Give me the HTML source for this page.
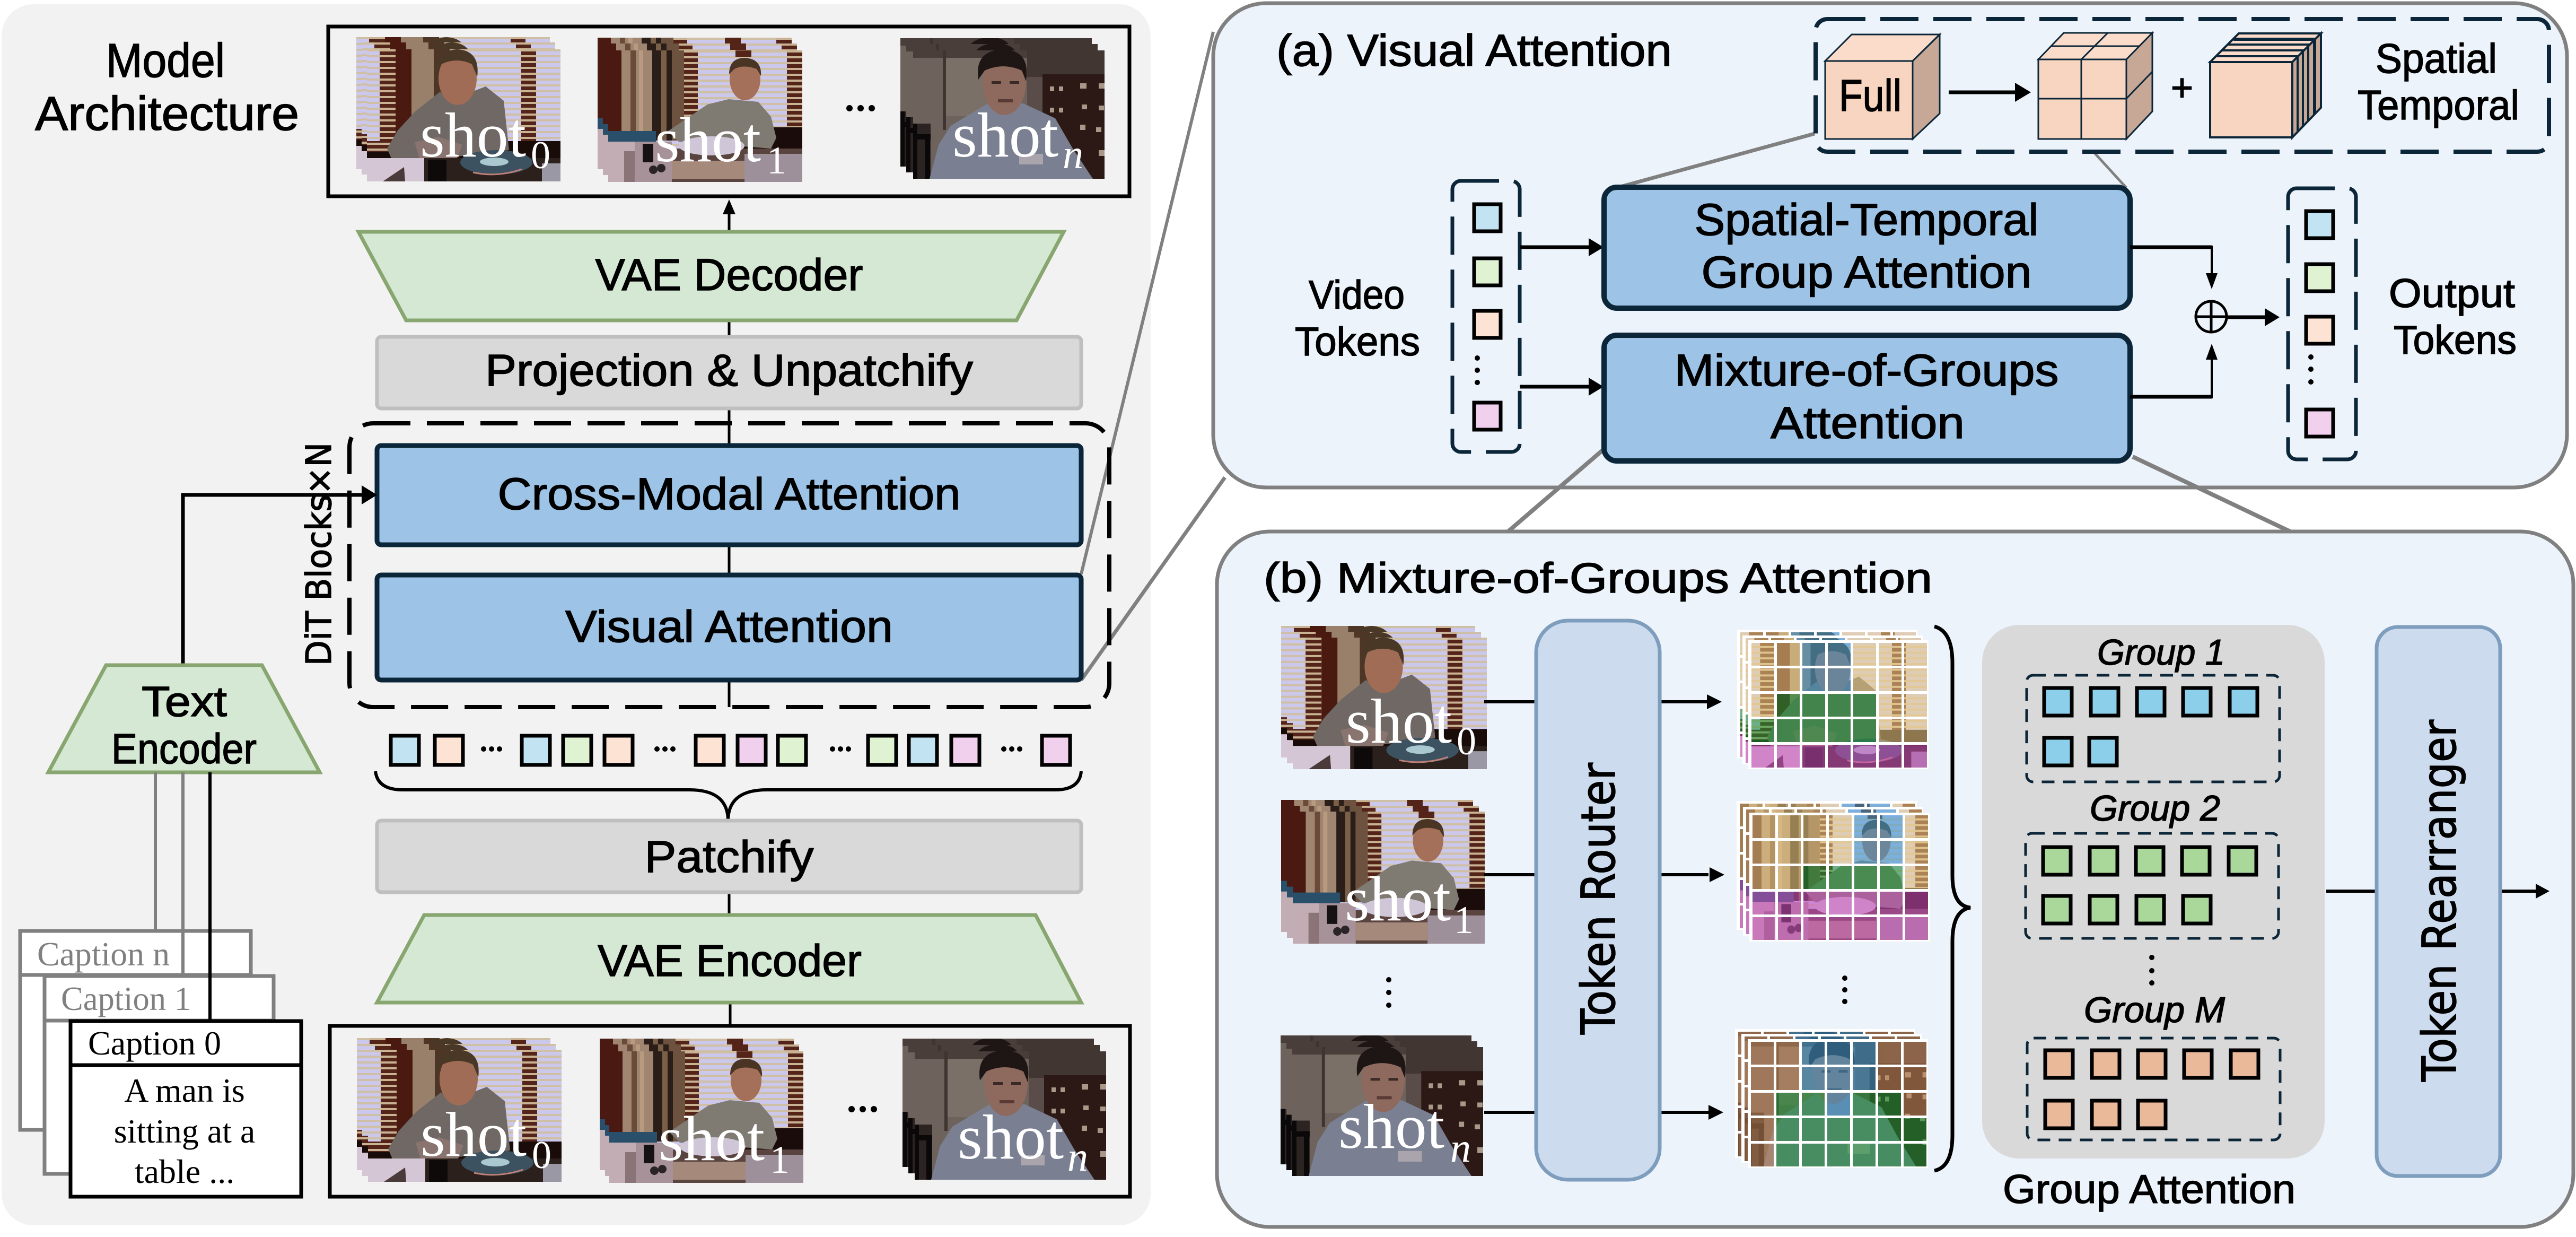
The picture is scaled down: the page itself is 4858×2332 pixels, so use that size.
<!DOCTYPE html>
<html><head><meta charset="utf-8"><title>Model Architecture</title>
<style>
html,body{margin:0;padding:0;background:#fff}
svg{display:block}
text{font-family:"Liberation Sans",sans-serif;fill:#000;stroke:#000;stroke-width:1.5}
.c{font-size:84px;text-anchor:middle}
.s{font-family:"Liberation Serif",serif;font-size:120px;fill:#fff;stroke:none}
.u{font-family:"Liberation Serif",serif;font-size:74px;fill:#fff;stroke:none}
.un{font-family:"Liberation Serif",serif;font-size:78px;fill:#fff;font-style:italic;stroke:none}
.cap{font-family:"Liberation Serif",serif;font-size:64px;stroke:none}
.g{font-size:68px;font-style:italic}
.d{font-family:"DejaVu Sans",sans-serif}
.l{stroke:#000;stroke-width:5;fill:none}
.t{stroke:#000;stroke-width:7}
.bl{fill:#c2e4f2}.or{fill:#fde3d3}.gr{fill:#dff3d3}.pu{fill:#f1d0ee}
.b2{fill:#8ccfea}.g2{fill:#aad89a}.o2{fill:#e9b99a}
.tan{fill:#f0cf88}.brn{fill:#c88a5c}.blu{fill:#3f9bd2}.grn{fill:#1f9a3a}.pur{fill:#cf4fc0}
</style></head>
<body>
<svg xmlns="http://www.w3.org/2000/svg" width="4858" height="2332" viewBox="0 0 4858 2332">
<defs>
<pattern id="bl0" width="20" height="11" patternUnits="userSpaceOnUse"><rect width="20" height="11" fill="#cbc8ec"/><rect y="0" width="20" height="4" fill="#cfbfa4"/></pattern>
<pattern id="bb" width="20" height="11" patternUnits="userSpaceOnUse"><rect width="20" height="11" fill="#552418"/><rect y="0" width="20" height="4" fill="#c9b394"/></pattern>
<symbol id="s0" viewBox="0 0 365 249" preserveAspectRatio="none">
<rect width="365" height="249" fill="url(#bl0)"/>
<rect x="24" width="30" height="175" fill="url(#bb)"/>
<rect x="54" width="32" height="215" fill="#4a1a10"/>
<rect x="84" width="42" height="210" fill="#98806a"/>
<rect x="126" width="30" height="210" fill="#4e3626"/>
<rect x="291" width="28" height="175" fill="url(#bb)"/>
<rect x="0" y="173" width="365" height="36" fill="#180b08"/>
<rect x="0" y="173" width="54" height="20" fill="url(#bb)"/>
<path d="M38 187 L58 153 L91 117 L138 80 L161 103 L198 80 L224 70 L258 97 L268 190 L108 210 L48 210Z" fill="#6f6864"/>
<path d="M90 175 L135 165 L180 180 L170 205 L100 210Z" fill="#8a7470"/>
<ellipse cx="171" cy="55" rx="36" ry="50" fill="#a06c56"/>
<path d="M132 50 Q128 2 170 0 Q214 2 208 52 L198 28 Q170 14 140 28Z" fill="#4a3826"/>
<rect x="0" y="205" width="108" height="44" fill="#d4c6d4"/>
<path d="M30 249 L70 222 L72 249Z" fill="#4a3a3a"/>
<rect x="108" y="205" width="257" height="44" fill="#2c201c"/>
<rect x="115" y="208" width="35" height="41" fill="#0e0a0a"/>
<ellipse cx="244" cy="213" rx="68" ry="23" fill="#3c5260"/>
<ellipse cx="240" cy="212" rx="27" ry="8" fill="#a9c8d0"/>
<path d="M200 232 Q245 242 292 226" stroke="#c08078" stroke-width="3" fill="none"/>
<rect x="330" y="215" width="35" height="34" fill="#9a98a4"/>
</symbol>
<symbol id="s1" viewBox="0 0 366 248" preserveAspectRatio="none">
<rect width="366" height="248" fill="url(#bl0)"/>
<rect x="143" width="26" height="145" fill="url(#bb)"/>
<rect x="337" width="29" height="145" fill="url(#bb)"/>
<rect x="240" width="30" height="12" fill="#552418"/>
<rect width="25" height="170" fill="#4a1a12"/>
<rect x="25" width="58" height="170" fill="#a08570"/>
<rect x="42" width="10" height="170" fill="#6a4a38"/>
<rect x="58" width="8" height="170" fill="#b89a80"/>
<rect x="83" width="37" height="170" fill="#2b1e18"/>
<rect x="100" width="10" height="170" fill="#7a6048"/>
<rect x="120" width="23" height="170" fill="#6e5240"/>
<rect x="143" y="145" width="223" height="55" fill="#1a0c0a"/>
<path d="M113 152 L187 102 L227 92 L283 97 L307 125 L317 165 L307 185 L133 172Z" fill="#7f7a72"/>
<ellipse cx="258" cy="54" rx="29" ry="40" fill="#a5705a"/>
<path d="M228 45 Q228 14 258 14 Q290 16 288 48 L280 35 Q255 26 238 35Z" fill="#4a3524"/>
<rect x="0" y="152" width="90" height="40" fill="#2a4f6a"/>
<rect x="0" y="172" width="50" height="76" fill="#c2adb4"/>
<rect x="30" y="190" width="20" height="58" fill="#8a7478"/>
<rect x="50" y="172" width="70" height="76" fill="#a8929a"/>
<rect x="65" y="176" width="20" height="35" fill="#161214"/>
<circle cx="85" cy="225" r="8" fill="#2a2426"/><circle cx="100" cy="222" r="8" fill="#2a2426"/>
<rect x="120" y="185" width="246" height="63" fill="#5a4440"/>
<ellipse cx="195" cy="180" rx="62" ry="18" fill="#cfc6d8"/>
<rect x="120" y="208" width="137" height="34" fill="#a58a7c"/>
<rect x="257" y="195" width="109" height="53" fill="#9d909a"/>
</symbol>
<symbol id="s2" viewBox="0 0 361 242" preserveAspectRatio="none">
<rect width="361" height="242" fill="#6d625c"/>
<rect width="361" height="14" fill="#4a3e3a"/>
<rect x="56" width="6" height="150" fill="#3e3430"/>
<rect x="62" y="14" width="85" height="110" fill="#7a7068"/>
<rect x="215" width="146" height="50" fill="#423632"/>
<rect x="215" y="50" width="40" height="90" fill="#5a4c48"/>
<rect y="138" width="33" height="104" fill="#2c2422"/>
<rect x="0" y="138" width="8" height="104" fill="#0a0808"/>
<rect x="22" y="158" width="10" height="84" fill="#0a0808"/>
<rect x="0" y="158" width="33" height="10" fill="#0a0808"/>
<rect x="244" y="45" width="117" height="197" fill="#2c1915"/>
<g fill="#a89888"><rect x="258" y="68" width="8" height="9"/><rect x="275" y="68" width="8" height="9"/><rect x="315" y="62" width="12" height="10"/><rect x="350" y="62" width="11" height="10"/><rect x="258" y="108" width="8" height="9"/><rect x="275" y="108" width="8" height="9"/><rect x="318" y="102" width="10" height="9"/><rect x="350" y="104" width="10" height="9"/><rect x="315" y="140" width="10" height="10"/><rect x="345" y="145" width="10" height="9"/><rect x="350" y="188" width="11" height="11"/></g>
<path d="M31 242 L48 178 L71 142 L141 100 L208 100 L268 128 L301 185 L339 242Z" fill="#7a7f92"/>
<rect x="200" y="195" width="45" height="20" fill="#aaa4ac"/>
<ellipse cx="172" cy="60" rx="41" ry="62" fill="#8e6a5e"/>
<path d="M123 55 Q115 0 170 -2 Q222 0 213 58 L205 38 Q170 22 135 38Z" fill="#1e1614"/>
<rect x="148" y="58" width="18" height="5" fill="#3a2a26"/><rect x="182" y="58" width="18" height="5" fill="#3a2a26"/>
<rect x="160" y="92" width="28" height="6" fill="#5a3a34"/>
</symbol>
<clipPath id="tc">
<path d="M6 5h43v43h-43zM54 5h43v43h-43zM102 5h43v43h-43zM150 5h43v43h-43zM198 5h43v43h-43zM246 5h43v43h-43zM294 5h43v43h-43zM6 53h43v43h-43zM54 53h43v43h-43zM102 53h43v43h-43zM150 53h43v43h-43zM198 53h43v43h-43zM246 53h43v43h-43zM294 53h43v43h-43zM6 101h43v43h-43zM54 101h43v43h-43zM102 101h43v43h-43zM150 101h43v43h-43zM198 101h43v43h-43zM246 101h43v43h-43zM294 101h43v43h-43zM6 149h43v43h-43zM54 149h43v43h-43zM102 149h43v43h-43zM150 149h43v43h-43zM198 149h43v43h-43zM246 149h43v43h-43zM294 149h43v43h-43zM6 197h43v43h-43zM54 197h43v43h-43zM102 197h43v43h-43zM150 197h43v43h-43zM198 197h43v43h-43zM246 197h43v43h-43zM294 197h43v43h-43z"/>
</clipPath>
<g id="t0"><rect width="340" height="243" fill="#fff"/><g clip-path="url(#tc)"><use href="#s0" width="340" height="243"/><g opacity=".55"><rect width="340" height="243" class="tan"/><rect x="102" width="96" height="96" class="blu"/><rect x="54" y="101" width="192" height="96" class="grn"/><rect y="149" width="50" height="48" class="grn"/><rect y="197" width="340" height="46" class="pur"/></g></g></g>
<g id="t1"><rect width="340" height="243" fill="#fff"/><g clip-path="url(#tc)"><use href="#s1" width="340" height="243"/><g opacity=".55"><rect width="340" height="243" class="tan"/><rect x="198" width="96" height="96" class="blu"/><rect x="102" y="101" width="192" height="48" class="grn"/><rect y="149" width="340" height="94" class="pur"/></g></g></g>
<g id="t2"><rect width="340" height="243" fill="#fff"/><g clip-path="url(#tc)"><use href="#s2" width="340" height="243"/><g opacity=".55"><rect width="340" height="243" class="brn"/><rect x="102" width="144" height="96" class="blu"/><rect x="54" y="101" width="240" height="48" class="grn"/><rect x="150" y="101" width="48" height="48" class="blu"/><rect x="54" y="149" width="286" height="94" class="grn"/></g></g></g>
</defs>

<rect x="3" y="8" width="2167" height="2302" rx="60" fill="#f2f2f2"/>

<!-- zoom lines left -->
<line x1="2039" y1="1082" x2="2288" y2="60" stroke="#808080" stroke-width="6"/>
<line x1="2039" y1="1282" x2="2310" y2="900" stroke="#808080" stroke-width="7"/>

<!-- Title -->
<text x="200" y="145" font-size="90" textLength="224" lengthAdjust="spacingAndGlyphs">Model</text>
<text x="66" y="245" font-size="90" textLength="498" lengthAdjust="spacingAndGlyphs">Architecture</text>

<!-- top frame -->
<rect x="619" y="50" width="1511" height="320" fill="none" stroke="#000" stroke-width="7"/>
<use href="#s0" x="672" y="70" width="365" height="249"/><use href="#s0" x="682" y="80" width="365" height="249"/><use href="#s0" x="692" y="93" width="365" height="249"/>
<use href="#s1" x="1127" y="71" width="366" height="248"/><use href="#s1" x="1137" y="82" width="366" height="248"/><use href="#s1" x="1147" y="95" width="366" height="248"/>
<use href="#s2" x="1698" y="72" width="361" height="242"/><use href="#s2" x="1709" y="83" width="361" height="242"/><use href="#s2" x="1722" y="95" width="361" height="242"/>
<text class="s" x="792" y="295">shot</text><text class="u" x="1001" y="317">0</text>
<text class="s" x="1235" y="304">shot</text><text class="u" x="1446" y="327">1</text>
<text class="s" x="1796" y="295">shot</text><text class="un" x="2004" y="317">n</text>
<circle cx="1602" cy="204" r="6"/><circle cx="1623" cy="204" r="6"/><circle cx="1644" cy="204" r="6"/>

<!-- main connectors -->
<line x1="1375" y1="436" x2="1375" y2="400" class="l"/>
<polygon points="1375,376 1363,404 1387,404"/>
<line x1="1375" y1="604" x2="1375" y2="633" class="l"/>
<line x1="1375" y1="770" x2="1375" y2="838" class="l"/>
<line x1="1375" y1="1027" x2="1375" y2="1082" class="l"/>
<line x1="1375" y1="1282" x2="1375" y2="1333" class="l"/>
<line x1="1375" y1="1682" x2="1375" y2="1725" class="l"/>
<line x1="1377" y1="1890" x2="1377" y2="1934" class="l"/>

<!-- VAE decoder -->
<polygon points="676,437 2006,437 1917,604 766,604" fill="#d5e8d4" stroke="#88a670" stroke-width="7"/>
<text class="c" x="1375" y="547" textLength="505" lengthAdjust="spacingAndGlyphs">VAE Decoder</text>
<!-- Projection -->
<rect x="711" y="635" width="1328" height="135" rx="8" fill="#d9d9d9" stroke="#bfbfbf" stroke-width="7"/>
<text class="c" x="1375" y="727" textLength="920" lengthAdjust="spacingAndGlyphs">Projection &amp; Unpatchify</text>
<!-- DiT dashed -->
<rect x="659" y="798" width="1433" height="535" rx="45" fill="none" stroke="#000" stroke-width="8" stroke-dasharray="70 31"/>
<rect x="711" y="840" width="1328" height="187" rx="8" fill="#9dc3e6" stroke="#0b2638" stroke-width="9"/>
<text class="c" x="1375" y="960" textLength="873" lengthAdjust="spacingAndGlyphs">Cross-Modal Attention</text>
<rect x="711" y="1084" width="1328" height="198" rx="8" fill="#9dc3e6" stroke="#0b2638" stroke-width="9"/>
<text class="c" x="1375" y="1210" textLength="618" lengthAdjust="spacingAndGlyphs">Visual Attention</text>
<text class="d" transform="translate(624,1255) rotate(-90)" font-size="66" textLength="421" lengthAdjust="spacingAndGlyphs">DiT Blocks×N</text>
<path d="M345 1254V933H690" fill="none" stroke="#000" stroke-width="7"/>
<polygon points="711,933 682,915 682,951"/>

<!-- Text encoder -->
<polygon points="200,1254 494,1254 603,1456 91,1456" fill="#d5e8d4" stroke="#88a670" stroke-width="7"/>
<text x="267" y="1350" font-size="80" textLength="161" lengthAdjust="spacingAndGlyphs">Text</text>
<text x="210" y="1439" font-size="80" textLength="274" lengthAdjust="spacingAndGlyphs">Encoder</text>

<!-- Tokens -->
<g class="t">
<rect x="737" y="1387" width="53" height="55" class="bl"/><rect x="820" y="1387" width="53" height="55" class="or"/>
<rect x="984" y="1387" width="53" height="55" class="bl"/><rect x="1062" y="1387" width="53" height="55" class="gr"/><rect x="1140" y="1387" width="53" height="55" class="or"/>
<rect x="1312" y="1387" width="53" height="55" class="or"/><rect x="1391" y="1387" width="53" height="55" class="pu"/><rect x="1467" y="1387" width="53" height="55" class="gr"/>
<rect x="1637" y="1387" width="53" height="55" class="gr"/><rect x="1714" y="1387" width="53" height="55" class="bl"/><rect x="1794" y="1387" width="53" height="55" class="pu"/>
<rect x="1965" y="1387" width="53" height="55" class="pu"/>
</g>
<g>
<circle cx="912" cy="1412" r="5"/><circle cx="927" cy="1412" r="5"/><circle cx="942" cy="1412" r="5"/>
<circle cx="1239" cy="1412" r="5"/><circle cx="1254" cy="1412" r="5"/><circle cx="1269" cy="1412" r="5"/>
<circle cx="1570" cy="1412" r="5"/><circle cx="1585" cy="1412" r="5"/><circle cx="1600" cy="1412" r="5"/>
<circle cx="1893" cy="1412" r="5"/><circle cx="1908" cy="1412" r="5"/><circle cx="1923" cy="1412" r="5"/>
</g>
<!-- brace -->
<path d="M708 1454Q712 1489 760 1489H1300Q1372 1489 1373 1546Q1374 1489 1446 1489H1990Q2036 1489 2039 1454" fill="none" stroke="#000" stroke-width="6"/>

<!-- Patchify -->
<rect x="711" y="1547" width="1328" height="135" rx="8" fill="#d9d9d9" stroke="#bfbfbf" stroke-width="7"/>
<text class="c" x="1375" y="1644" textLength="319" lengthAdjust="spacingAndGlyphs">Patchify</text>
<!-- VAE encoder -->
<polygon points="800,1725 1953,1725 2039,1890 711,1890" fill="#d5e8d4" stroke="#88a670" stroke-width="7"/>
<text class="c" x="1376" y="1840" textLength="498" lengthAdjust="spacingAndGlyphs">VAE Encoder</text>

<!-- bottom frame -->
<rect x="622" y="1934" width="1509" height="322" fill="none" stroke="#000" stroke-width="7"/>
<use href="#s0" x="673" y="1957" width="365" height="249"/><use href="#s0" x="683" y="1968" width="365" height="249"/><use href="#s0" x="694" y="1979" width="365" height="249"/>
<use href="#s1" x="1131" y="1958" width="366" height="248"/><use href="#s1" x="1141" y="1969" width="366" height="248"/><use href="#s1" x="1149" y="1982" width="366" height="248"/>
<use href="#s2" x="1702" y="1958" width="361" height="242"/><use href="#s2" x="1713" y="1970" width="361" height="242"/><use href="#s2" x="1725" y="1982" width="361" height="242"/>
<text class="s" x="793" y="2179">shot</text><text class="u" x="1003" y="2202">0</text>
<text class="s" x="1242" y="2187">shot</text><text class="u" x="1452" y="2211">1</text>
<text class="s" x="1806" y="2184">shot</text><text class="un" x="2013" y="2207">n</text>
<circle cx="1606" cy="2091" r="6"/><circle cx="1627" cy="2091" r="6"/><circle cx="1648" cy="2091" r="6"/>

<!-- captions -->
<rect x="38" y="1755" width="435" height="375" fill="#fff" stroke="#808080" stroke-width="7"/>
<line x1="38" y1="1838" x2="473" y2="1838" stroke="#808080" stroke-width="7"/>
<text class="cap" x="70" y="1820" style="fill:#808080" textLength="250" lengthAdjust="spacingAndGlyphs">Caption n</text>
<line x1="293" y1="1456" x2="293" y2="1755" stroke="#808080" stroke-width="6"/>
<line x1="345" y1="1456" x2="345" y2="1840" stroke="#808080" stroke-width="6"/>
<rect x="84" y="1840" width="432" height="373" fill="#fff" stroke="#808080" stroke-width="7"/>
<line x1="84" y1="1924" x2="516" y2="1924" stroke="#808080" stroke-width="7"/>
<text class="cap" x="115" y="1904" style="fill:#808080" textLength="245" lengthAdjust="spacingAndGlyphs">Caption 1</text>
<line x1="396" y1="1456" x2="396" y2="1925" stroke="#000" stroke-width="6"/>
<rect x="133" y="1925" width="435" height="331" fill="#fff" stroke="#000" stroke-width="7"/>
<line x1="133" y1="2008" x2="568" y2="2008" stroke="#000" stroke-width="7"/>
<text class="cap" x="166" y="1988" textLength="251" lengthAdjust="spacingAndGlyphs">Caption 0</text>
<text class="cap" x="348" y="2077" text-anchor="middle">A man is</text>
<text class="cap" x="348" y="2154" text-anchor="middle">sitting at a</text>
<text class="cap" x="348" y="2230" text-anchor="middle">table ...</text>

<!-- Panel a -->
<rect x="2288" y="6" width="2553" height="913" rx="100" fill="#ecf3fb" stroke="#808080" stroke-width="7"/>
<line x1="3422" y1="252" x2="3056" y2="352" stroke="#808080" stroke-width="7"/>
<line x1="3946" y1="284" x2="4010" y2="354" stroke="#808080" stroke-width="5"/>
<line x1="3022" y1="849" x2="2844" y2="1002" stroke="#808080" stroke-width="8"/>
<line x1="4022" y1="861" x2="4319" y2="1002" stroke="#808080" stroke-width="8"/>
<text x="2407" y="124" font-size="84" textLength="746" lengthAdjust="spacingAndGlyphs">(a) Visual Attention</text>

<rect x="3424" y="36" width="1383" height="250" rx="22" fill="none" stroke="#0b2638" stroke-width="8" stroke-dasharray="72 28"/>
<!-- Full cube -->
<polygon points="3442,115 3492,65 3658,65 3607,115" fill="#fbdccb" stroke="#0b2638" stroke-width="3"/>
<polygon points="3607,115 3658,65 3658,214 3607,262" fill="#c7a896" stroke="#0b2638" stroke-width="3"/>
<rect x="3442" y="115" width="165" height="147" fill="#f8d5c0" stroke="#0b2638" stroke-width="3"/>
<text x="3468" y="209" font-size="84" textLength="118" lengthAdjust="spacingAndGlyphs">Full</text>
<line x1="3675" y1="174" x2="3805" y2="174" stroke="#000" stroke-width="7"/>
<polygon points="3830,174 3800,156 3800,192"/>
<!-- Split cube -->
<polygon points="3844,112 3892,62 4059,62 4010,112" fill="#fbdccb" stroke="#0b2638" stroke-width="3"/>
<polygon points="4010,112 4059,62 4059,210 4010,262" fill="#c7a896" stroke="#0b2638" stroke-width="3"/>
<rect x="3844" y="112" width="166" height="150" fill="#f8d5c0" stroke="#0b2638" stroke-width="3"/>
<path d="M3925 112V262M3844 186H4010L4059 135M3925 112L3975 62M3868 87H4035" fill="none" stroke="#0b2638" stroke-width="3"/>
<text x="4115" y="190" font-size="72" text-anchor="middle">+</text>
<!-- Temporal cube -->
<polygon points="4168,117 4222,63 4377,63 4323,117" fill="#fbdccb" stroke="#0b2638" stroke-width="4"/>
<polygon points="4323,117 4377,63 4377,203 4323,259" fill="#c7a896" stroke="#0b2638" stroke-width="4"/>
<rect x="4168" y="117" width="155" height="142" fill="#f8d5c0" stroke="#0b2638" stroke-width="4"/>
<path d="M4179 106H4333V248M4190 95H4343V238M4201 84H4353V227" fill="none" stroke="#0b2638" stroke-width="4"/>
<path d="M4212 74H4365V216" fill="none" stroke="#0b2638" stroke-width="6"/>
<text x="4480" y="137" font-size="78" textLength="229" lengthAdjust="spacingAndGlyphs">Spatial</text>
<text x="4446" y="225" font-size="78" textLength="305" lengthAdjust="spacingAndGlyphs">Temporal</text>

<!-- video tokens -->
<text x="2468" y="582" font-size="76" textLength="181" lengthAdjust="spacingAndGlyphs">Video</text>
<text x="2442" y="670" font-size="76" textLength="236" lengthAdjust="spacingAndGlyphs">Tokens</text>
<rect x="2739" y="341" width="127" height="511" rx="16" fill="none" stroke="#0b2638" stroke-width="7" stroke-dasharray="72 28"/>
<g class="t">
<rect x="2780" y="385" width="50" height="51" class="bl"/><rect x="2780" y="487" width="50" height="51" class="gr"/><rect x="2780" y="586" width="50" height="51" class="or"/><rect x="2780" y="759" width="50" height="51" class="pu"/>
</g>
<circle cx="2786" cy="675" r="5"/><circle cx="2786" cy="698" r="5"/><circle cx="2786" cy="721" r="5"/>
<line x1="2866" y1="466" x2="3000" y2="466" stroke="#000" stroke-width="7"/><polygon points="3024,466 2996,449 2996,483"/>
<line x1="2866" y1="729" x2="3000" y2="729" stroke="#000" stroke-width="7"/><polygon points="3024,729 2996,712 2996,746"/>
<!-- blue boxes -->
<rect x="3025" y="353" width="992" height="228" rx="24" fill="#9dc3e6" stroke="#0b2638" stroke-width="10"/>
<text class="c" x="3520" y="443" textLength="649" lengthAdjust="spacingAndGlyphs">Spatial-Temporal</text>
<text class="c" x="3520" y="542" textLength="623" lengthAdjust="spacingAndGlyphs">Group Attention</text>
<rect x="3025" y="632" width="992" height="237" rx="24" fill="#9dc3e6" stroke="#0b2638" stroke-width="10"/>
<text class="c" x="3520" y="727" textLength="725" lengthAdjust="spacingAndGlyphs">Mixture-of-Groups</text>
<text class="c" x="3522" y="826" textLength="366" lengthAdjust="spacingAndGlyphs">Attention</text>
<path d="M4017 466H4171" fill="none" stroke="#000" stroke-width="7"/><path d="M4171 463V520" fill="none" stroke="#000" stroke-width="4"/><polygon points="4171,545 4160,515 4182,515"/>
<path d="M4017 748H4171" fill="none" stroke="#000" stroke-width="7"/><path d="M4171 751V675" fill="none" stroke="#000" stroke-width="4"/><polygon points="4171,648 4160,678 4182,678"/>
<circle cx="4170" cy="597" r="29" fill="none" stroke="#000" stroke-width="5"/><path d="M4141 597H4199M4170 568V626" stroke="#000" stroke-width="5"/>
<line x1="4199" y1="598" x2="4275" y2="598" stroke="#000" stroke-width="7"/><polygon points="4299,598 4271,581 4271,615"/>
<!-- output tokens -->
<rect x="4315" y="355" width="128" height="511" rx="16" fill="none" stroke="#0b2638" stroke-width="7" stroke-dasharray="72 28"/>
<g class="t">
<rect x="4349" y="398" width="51" height="51" class="bl"/><rect x="4349" y="498" width="51" height="51" class="gr"/><rect x="4349" y="597" width="51" height="51" class="or"/><rect x="4349" y="772" width="51" height="51" class="pu"/>
</g>
<circle cx="4358" cy="673" r="5"/><circle cx="4358" cy="696" r="5"/><circle cx="4358" cy="720" r="5"/>
<text x="4505" y="579" font-size="76" textLength="238" lengthAdjust="spacingAndGlyphs">Output</text>
<text x="4514" y="667" font-size="76" textLength="232" lengthAdjust="spacingAndGlyphs">Tokens</text>

<!-- Panel b -->
<rect x="2295" y="1002" width="2558" height="1311" rx="100" fill="#ecf3fb" stroke="#808080" stroke-width="7"/>
<text x="2383" y="1117" font-size="80" textLength="1261" lengthAdjust="spacingAndGlyphs">(b) Mixture-of-Groups Attention</text>

<use href="#s0" x="2416" y="1180" width="366" height="248"/><use href="#s0" x="2427" y="1191" width="366" height="248"/><use href="#s0" x="2438" y="1202" width="366" height="248"/>
<use href="#s1" x="2416" y="1508" width="362" height="249"/><use href="#s1" x="2427" y="1519" width="362" height="249"/><use href="#s1" x="2438" y="1530" width="362" height="249"/>
<use href="#s2" x="2415" y="1952" width="360" height="243"/><use href="#s2" x="2426" y="1963" width="360" height="243"/><use href="#s2" x="2437" y="1974" width="360" height="243"/>
<text class="s" x="2538" y="1400">shot</text><text class="u" x="2747" y="1422">0</text>
<text class="s" x="2536" y="1735">shot</text><text class="u" x="2742" y="1759">1</text>
<text class="s" x="2524" y="2164">shot</text><text class="un" x="2735" y="2190">n</text>
<circle cx="2619" cy="1847" r="5"/><circle cx="2619" cy="1871" r="5"/><circle cx="2619" cy="1895" r="5"/>
<g stroke="#000" stroke-width="6"><line x1="2799" y1="1323" x2="2897" y2="1323"/><line x1="2799" y1="1649" x2="2897" y2="1649"/><line x1="2799" y1="2097" x2="2897" y2="2097"/>
<line x1="3133" y1="1323" x2="3220" y2="1323"/><line x1="3133" y1="1649" x2="3222" y2="1649"/><line x1="3133" y1="2097" x2="3222" y2="2097"/></g>
<polygon points="3247,1323 3219,1309 3219,1337"/><polygon points="3252,1649 3224,1635 3224,1663"/><polygon points="3250,2097 3222,2083 3222,2111"/>
<rect x="2897" y="1170" width="233" height="1054" rx="60" fill="#ccdcee" stroke="#7f9dbd" stroke-width="7"/>
<text class="d" transform="translate(3045,1950) rotate(-90)" font-size="88" textLength="512" lengthAdjust="spacingAndGlyphs">Token Router</text>

<!-- Tile stacks -->
<use href="#t0" x="3276" y="1187"/><use href="#t0" x="3286" y="1198"/><use href="#t0" x="3297" y="1207"/>
<use href="#t1" x="3275" y="1510"/><use href="#t1" x="3287" y="1521"/><use href="#t1" x="3299" y="1532"/>
<use href="#t2" x="3272" y="1940"/><use href="#t2" x="3284" y="1949"/><use href="#t2" x="3296" y="1959"/>
<circle cx="3479" cy="1844" r="5"/><circle cx="3479" cy="1866" r="5"/><circle cx="3479" cy="1888" r="5"/>
<path d="M3648 1181Q3682 1190 3682 1250V1650Q3682 1708 3716 1711Q3682 1716 3682 1775V2140Q3682 2200 3648 2207" fill="none" stroke="#000" stroke-width="7"/>

<!-- Group panel -->
<rect x="3738" y="1178" width="646" height="1006" rx="70" fill="#d9d9d9"/>
<text class="g" x="3955" y="1253" textLength="241" lengthAdjust="spacingAndGlyphs">Group 1</text>
<text class="g" x="3941" y="1547" textLength="246" lengthAdjust="spacingAndGlyphs">Group 2</text>
<text class="g" x="3930" y="1927" textLength="266" lengthAdjust="spacingAndGlyphs">Group M</text>
<g fill="none" stroke="#0b2638" stroke-width="5" stroke-dasharray="24 16">
<rect x="3822" y="1273" width="477" height="201" rx="12"/><rect x="3820" y="1571" width="477" height="198" rx="12"/><rect x="3823" y="1957" width="477" height="192" rx="12"/>
</g>
<g class="t">
<g class="b2"><rect x="3855" y="1297" width="52" height="52"/><rect x="3943" y="1297" width="52" height="52"/><rect x="4030" y="1297" width="52" height="52"/><rect x="4117" y="1297" width="52" height="52"/><rect x="4205" y="1297" width="52" height="52"/><rect x="3855" y="1391" width="52" height="52"/><rect x="3940" y="1391" width="52" height="52"/></g>
<g class="g2"><rect x="3853" y="1597" width="52" height="52"/><rect x="3941" y="1597" width="52" height="52"/><rect x="4028" y="1597" width="52" height="52"/><rect x="4115" y="1597" width="52" height="52"/><rect x="4203" y="1597" width="52" height="52"/><rect x="3853" y="1689" width="52" height="52"/><rect x="3941" y="1689" width="52" height="52"/><rect x="4029" y="1689" width="52" height="52"/><rect x="4117" y="1689" width="52" height="52"/></g>
<g class="o2"><rect x="3857" y="1980" width="52" height="52"/><rect x="3945" y="1980" width="52" height="52"/><rect x="4032" y="1980" width="52" height="52"/><rect x="4119" y="1980" width="52" height="52"/><rect x="4207" y="1980" width="52" height="52"/><rect x="3857" y="2075" width="52" height="52"/><rect x="3945" y="2075" width="52" height="52"/><rect x="4032" y="2075" width="52" height="52"/></g>
</g>
<circle cx="4058" cy="1805" r="5"/><circle cx="4058" cy="1830" r="5"/><circle cx="4058" cy="1853" r="5"/>
<text x="3777" y="2268" font-size="76" textLength="552" lengthAdjust="spacingAndGlyphs">Group Attention</text>
<line x1="4387" y1="1680" x2="4482" y2="1680" stroke="#000" stroke-width="6"/>
<rect x="4482" y="1182" width="233" height="1035" rx="40" fill="#ccdcee" stroke="#7f9dbd" stroke-width="7"/>
<text class="d" transform="translate(4631,2039) rotate(-90)" font-size="88" textLength="682" lengthAdjust="spacingAndGlyphs">Token Rearranger</text>
<line x1="4718" y1="1680" x2="4785" y2="1680" stroke="#000" stroke-width="6"/>
<polygon points="4808,1680 4782,1666 4782,1694"/>
</svg>
</body></html>
